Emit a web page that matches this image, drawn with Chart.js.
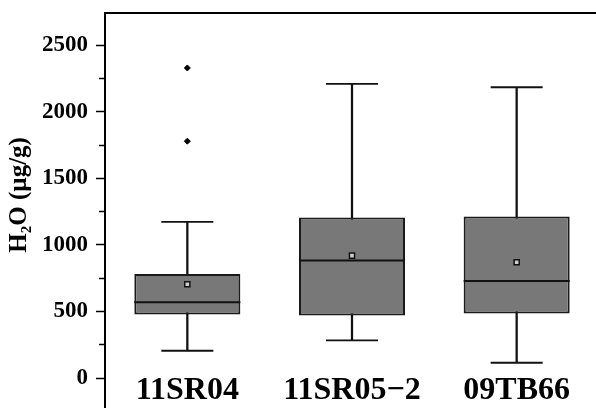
<!DOCTYPE html>
<html lang="en">
<head>
    <meta charset="UTF-8">
    <title>H2O box plot</title>
    <script src="https://cdn.jsdelivr.net/npm/chart.js"></script>
    <style>
        body { margin: 0; background: #fff; overflow: hidden; }
        #wrap { width: 596px; height: 408px; overflow: hidden; }
    </style>
</head>
<body>
    <div id="wrap"><canvas id="boxChart" width="600" height="408"></canvas></div>

    <script>
        // Samples
        const samples = ['11SR04', '11SR05\u22122', '09TB66'];

        // Box statistics (µg/g)
        const q1 = [477, 470, 485];
        const q3 = [782, 1207, 1213];
        const median = [570, 883, 730];
        const mean = [705, 920, 870];
        const whiskerLow = [205, 283, 115];
        const whiskerHigh = [1173, 2210, 2185];

        // Outliers (only 11SR04 has them)
        const outlierSample = ['11SR04', '11SR04'];
        const outlierValues = [2330, 1780];

        // Y axis
        const yMin = -225;
        const yMax = 2743;
        const yTicks = [0, 500, 1000, 1500, 2000, 2500];
        const yMinorTicks = [250, 750, 1250, 1750, 2250];

        const serif = "'Liberation Serif', 'Times New Roman', serif";

        // sample names sit inside the plot, under the boxes
        const sampleLabels = {
            id: 'sampleLabels',
            afterDraw(chart) {
                const ctx = chart.ctx;
                const x = chart.scales.x;
                ctx.save();
                ctx.font = 'bold 32px ' + serif;
                ctx.fillStyle = '#000';
                ctx.textAlign = 'center';
                ctx.textBaseline = 'middle';
                samples.forEach((s, i) => {
                    ctx.fillText(s, x.getPixelForValue(i), chart.chartArea.bottom - 17);
                });
                ctx.restore();
            }
        };

        const ctx = document.getElementById('boxChart').getContext('2d');
        const boxChart = new Chart(ctx, {
            data: {
                labels: samples,
                datasets: [
                    {
                        type: 'bar',
                        label: 'whisker',
                        data: samples.map((s, i) => [whiskerLow[i], whiskerHigh[i]]),
                        backgroundColor: '#111',
                        barThickness: 1.6,
                        grouped: false,
                        order: 4
                    },
                    {
                        type: 'bar',
                        label: 'box',
                        data: samples.map((s, i) => [q1[i], q3[i]]),
                        backgroundColor: '#787878',
                        borderColor: '#1a1a1a',
                        borderWidth: 2,
                        borderSkipped: false,
                        barPercentage: 0.644,
                        categoryPercentage: 1,
                        grouped: false,
                        order: 3
                    },
                    {
                        type: 'line',
                        label: 'caps',
                        data: samples.map((s, i) => ({ x: s, y: whiskerLow[i] }))
                            .concat(samples.map((s, i) => ({ x: s, y: whiskerHigh[i] }))),
                        showLine: false,
                        pointStyle: 'line',
                        pointRadius: 26,
                        pointBorderWidth: 1.8,
                        pointBorderColor: '#111',
                        order: 2
                    },
                    {
                        type: 'line',
                        label: 'median',
                        data: median,
                        showLine: false,
                        pointStyle: 'line',
                        pointRadius: 53,
                        pointBorderWidth: 2,
                        pointBorderColor: '#111',
                        order: 2
                    },
                    {
                        type: 'line',
                        label: 'mean',
                        data: mean,
                        showLine: false,
                        pointStyle: 'rect',
                        pointRadius: 3.6,
                        pointBackgroundColor: '#cfcfcf',
                        pointBorderColor: '#111',
                        pointBorderWidth: 1.5,
                        order: 1
                    },
                    {
                        type: 'line',
                        label: 'outliers',
                        data: outlierSample.map((s, i) => ({ x: s, y: outlierValues[i] })),
                        showLine: false,
                        pointStyle: 'rectRot',
                        pointRadius: 3,
                        pointBackgroundColor: '#000',
                        pointBorderColor: '#000',
                        pointBorderWidth: 1,
                        order: 1
                    }
                ]
            },
            options: {
                responsive: false,
                animation: false,
                events: [],
                layout: { autoPadding: false, padding: { top: 13, right: 1, bottom: 0, left: 0 } },
                plugins: {
                    legend: { display: false },
                    tooltip: { enabled: false }
                },
                scales: {
                    x: {
                        type: 'category',
                        display: false,
                        offset: true
                    },
                    x2: {
                        type: 'category',
                        position: 'top',
                        labels: samples,
                        offset: true,
                        grid: { display: false },
                        ticks: { display: false },
                        border: { display: true, color: '#000', width: 2 },
                        afterFit(scale) { scale.height = 0; }
                    },
                    y: {
                        min: yMin,
                        max: yMax,
                        weight: 1,
                        afterBuildTicks(scale) {
                            scale.ticks = yTicks.map(v => ({ value: v }));
                        },
                        grid: {
                            drawOnChartArea: false,
                            tickLength: 9,
                            tickWidth: 1.5,
                            tickColor: '#000'
                        },
                        border: { display: true, color: '#000', width: 2 },
                        ticks: {
                            autoSkip: false,
                            padding: 8,
                            color: '#000',
                            font: { family: serif, size: 23, weight: 'bold' },
                            callback: v => String(v)
                        },
                        title: {
                            display: true,
                            text: '     H\u2082O (\u00b5g/g)',
                            color: '#000',
                            font: { family: serif, size: 25, weight: 'bold' },
                            padding: { top: 5, bottom: 0 }
                        },
                        afterFit(scale) {
                            scale.width = 105;
                            scale.paddingTop = 0;
                            scale.paddingBottom = 0;
                        }
                    },
                    // minor ticks only, shorter marks
                    yMinor: {
                        position: 'left',
                        min: yMin,
                        max: yMax,
                        weight: 0,
                        afterBuildTicks(scale) {
                            scale.ticks = yMinorTicks.map(v => ({ value: v }));
                        },
                        grid: {
                            drawOnChartArea: false,
                            tickLength: 6,
                            tickWidth: 1.5,
                            tickColor: '#000'
                        },
                        border: { display: false },
                        ticks: { autoSkip: false, padding: 0, callback: () => '' },
                        afterFit(scale) {
                            scale.width = 0;
                            scale.paddingTop = 0;
                            scale.paddingBottom = 0;
                        }
                    }
                }
            },
            plugins: [sampleLabels]
        });
    </script>
</body>
</html>
